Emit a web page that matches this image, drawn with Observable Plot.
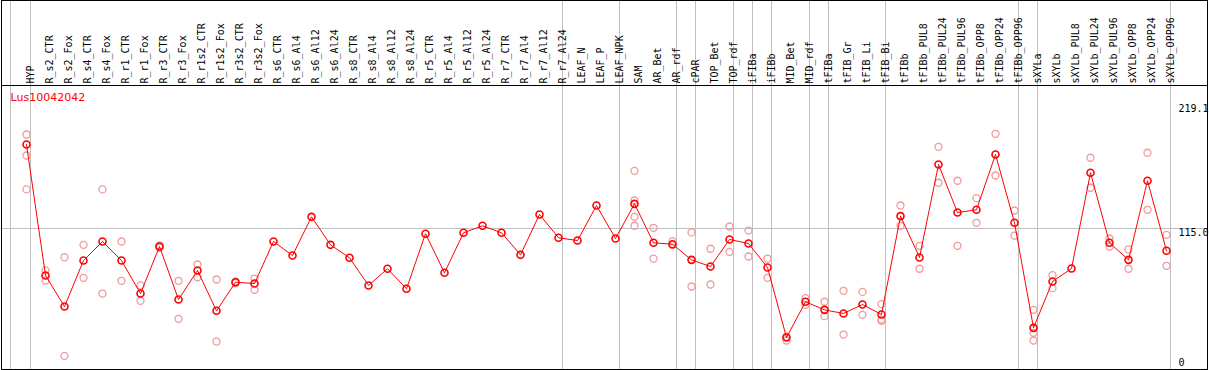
<!DOCTYPE html>
<html>
<head>
<meta charset="utf-8">
<script src="https://cdn.jsdelivr.net/npm/d3@7"></script>
<script src="https://cdn.jsdelivr.net/npm/@observablehq/plot@0.6"></script>
<style>
  html, body { margin: 0; padding: 0; background: white; }
  svg { display: block; }
</style>
</head>
<body>
<div id="chart"></div>
<script>
const title = "Lus10042042";

const categories = [
  "HYP","R_s2_CTR","R_s2_Fox","R_s4_CTR","R_s4_Fox","R_r1_CTR","R_r1_Fox","R_r3_CTR","R_r3_Fox",
  "R_r1s2_CTR","R_r1s2_Fox","R_r3s2_CTR","R_r3s2_Fox","R_s6_CTR","R_s6_Al4","R_s6_Al12","R_s6_Al24",
  "R_s8_CTR","R_s8_Al4","R_s8_Al12","R_s8_Al24","R_r5_CTR","R_r5_Al4","R_r5_Al12","R_r5_Al24",
  "R_r7_CTR","R_r7_Al4","R_r7_Al12","R_r7_Al24","LEAF_N","LEAF_P","LEAF_NPK","SAM","AR_Bet","AR_rdf",
  "cPAR","TOP_Bet","TOP_rdf","iFIBa","iFIBb","MID_Bet","MID_rdf","tFIBa","tFIB_Gr","tFIB_Li","tFIB_Bi",
  "tFIBb","tFIBb_PUL8","tFIBb_PUL24","tFIBb_PUL96","tFIBb_OPP8","tFIBb_OPP24","tFIBb_OPP96",
  "sXYLa","sXYLb","sXYLb_PUL8","sXYLb_PUL24","sXYLb_PUL96","sXYLb_OPP8","sXYLb_OPP24","sXYLb_OPP96"
];

const means = [
  185.5, 75.6, 49.5, 88.1, 104.1, 88.1, 60.4, 99.9, 55.4,
  79.8, 45.9, 69.9, 68.8, 104.1, 92.3, 124.8, 101.3,
  90.4, 67.2, 81.2, 64.4, 110.6, 77.8, 111.4, 117.3,
  111.4, 92.9, 126.8, 107.2, 104.9, 134.3, 106.6, 135.7, 103.0, 101.8,
  88.7, 83.1, 105.8, 102.4, 82.3, 23.5, 53.5, 46.7, 43.7, 51.2, 42.8,
  125.4, 90.7, 168.7, 128.4, 130.7, 177.1, 119.8,
  31.6, 70.5, 81.4, 161.8, 103.0, 88.7, 155.1, 96.3
];

const replicates = [
  [193.9, 176.3, 147.8], [79.8, 71.4], [90.9, 8.1], [101.3, 73.6], [147.8, 60.4], [104.1, 71.1], [67.2, 54.3], [100.8, 98.8], [71.1, 39.2],
  [84.8, 74.1], [72.2, 20.1], [70.6, 69.2], [73.0, 63.5], [], [], [], [],
  [], [], [], [], [], [], [], [],
  [], [], [], [], [], [], [], [163.4, 138.5, 124.8, 117.3], [115.6, 89.8], [104.4, 101.0],
  [111.7, 66.3], [98.0, 68.0], [116.7, 95.4], [113.3, 91.5], [89.8, 73.6], [21.0, 24.3], [56.5, 50.9], [53.5, 41.4], [62.7, 26.0], [61.8, 42.5], [51.5, 38.6, 37.5],
  [134.3, 117.3], [100.5, 81.2], [183.6, 153.4], [155.1, 100.5], [140.5, 119.8], [194.5, 159.5], [130.1, 109.1],
  [46.7, 27.4, 21.0], [75.8, 64.9], [], [174.4, 149.2], [106.6, 99.9], [97.4, 81.2], [178.6, 130.7], [109.7, 83.7]
];

// categories after which a group separator line is drawn
const groupEnds = ["HYP","R_r7_Al24","LEAF_NPK","AR_rdf","cPAR","TOP_rdf","iFIBa","iFIBb","MID_rdf","tFIBa","tFIB_Bi","tFIBb_OPP96","sXYLa","sXYLb_OPP96"];

const yTicks = [115, 219.1];
const yTickLabels = ["115.0", "219.1"];
const yZeroTick = [0];
const yZeroLabel = ["0"];

const meanData = categories.map((c, i) => ({cat: c, value: means[i]}));
const repData = categories.flatMap((c, i) => replicates[i].map(v => ({cat: c, value: v})));

const chart = Plot.plot({
  width: 1209,
  height: 370,
  marginTop: 85,
  marginBottom: 1,
  marginLeft: 1,
  marginRight: 2,
  x: {type: "point", domain: categories, range: [26, 1166], padding: 0, axis: null},
  y: {domain: [0, 219.1], range: [365, 104], axis: null},
  style: {fontFamily: "'DejaVu Sans Mono', monospace", fontSize: "10px", background: "white", color: "black"},
  marks: [
    Plot.ruleX(groupEnds, {x: d => d, dx: 4, stroke: "#c0c0c0", insetTop: -85}),
    Plot.ruleX(["HYP"], {x: d => d, dx: -16, stroke: "#c0c0c0", insetTop: -85}),
    Plot.ruleY([115], {stroke: "#c0c0c0"}),
    Plot.frame({stroke: "black"}),
    Plot.frame({stroke: "black", insetTop: -85}),
    Plot.dot(repData, {x: "cat", y: "value", r: 3.5, stroke: "#f09a9a", strokeWidth: 1.3}),
    Plot.line(meanData, {x: "cat", y: "value", stroke: "red", strokeWidth: 1}),
    Plot.dot(meanData, {x: "cat", y: "value", r: 3.5, stroke: "red", strokeWidth: 1.6}),
    Plot.text(categories, {x: d => d, frameAnchor: "top", dy: -2, rotate: -90, textAnchor: "start", fill: "black"}),
    Plot.text([title], {frameAnchor: "top-left", dx: 9, dy: 8, lineAnchor: "top", textAnchor: "start", fill: "red", fontFamily: "'DejaVu Sans', sans-serif", fontSize: 11}),
    Plot.text(yTicks, {y: d => d, text: (d, i) => yTickLabels[i], frameAnchor: "right", dx: -29, textAnchor: "start", lineAnchor: "top", fill: "black"}),
    Plot.text(yZeroTick, {y: d => d, text: (d, i) => yZeroLabel[i], frameAnchor: "right", dx: -29, textAnchor: "start", lineAnchor: "bottom", fill: "black"})
  ]
});
document.getElementById("chart").appendChild(chart);
</script>
</body>
</html>
